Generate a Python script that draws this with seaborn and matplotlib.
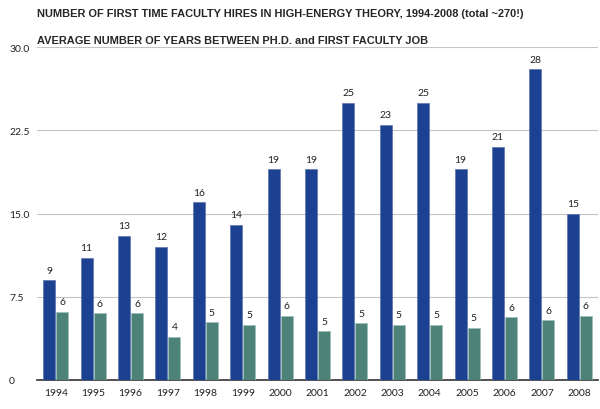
import pandas as pd
import seaborn as sns
import matplotlib.pyplot as plt

years = [str(y) for y in range(1994, 2009)]
hires = [9, 11, 13, 12, 16, 14, 19, 19, 25, 23, 25, 19, 21, 28, 15]
avg_years = [6.15, 6.0, 6.0, 3.9, 5.2, 4.95, 5.8, 4.4, 5.1, 4.95, 4.95, 4.7, 5.65, 5.4, 5.8]
avg_labels = ['6', '6', '6', '4', '5', '5', '6', '5', '5', '5', '5', '5', '6', '6', '6']
y_ticks = [0, 7.5, 15.0, 22.5, 30.0]
y_tick_labels = ['0', '7.5', '15.0', '22.5', '30.0']

BLUE = '#1c4190'
GREEN = '#4c8278'

df = pd.DataFrame({
    'year': years * 2,
    'value': hires + avg_years,
    'series': ['hires'] * len(years) + ['years'] * len(years),
})

sns.set_style('white')
plt.rcParams['font.family'] = ['Lato', 'DejaVu Sans']

fig = plt.figure(figsize=(6, 4.1), dpi=100)
ax = fig.add_axes([37 / 600, 29 / 410, 561 / 600, 333 / 410])

sns.barplot(data=df, x='year', y='value', hue='series', palette=[BLUE, GREEN],
            width=0.7, gap=0.08, legend=False, ax=ax, zorder=3, saturation=1)

for i, bar in enumerate(ax.patches):
    edge = '#5a74ad' if i < 15 else '#9cc0b8'
    bar.set_edgecolor(edge)
    bar.set_linewidth(0.5)

# value labels above each bar
ax.bar_label(ax.containers[0], labels=[str(v) for v in hires], padding=4,
             fontsize=7.5, color='#222222')
ax.bar_label(ax.containers[1], labels=avg_labels, padding=4,
             fontsize=7.5, color='#222222')

ax.set_ylim(0, 30)
ax.set_xlim(-0.5, 14.5)
ax.set_yticks(y_ticks)
ax.set_yticklabels(y_tick_labels)
ax.yaxis.grid(True, color='#c4c4c4', linewidth=0.8, zorder=0)
ax.set_axisbelow(True)
ax.set_xlabel('')
ax.set_ylabel('')
ax.tick_params(axis='both', labelsize=7.5, length=0, colors='#222222')
ax.tick_params(axis='y', pad=20)
for lab in ax.get_yticklabels():
    lab.set_horizontalalignment('left')
ax.tick_params(axis='x', pad=6)

for side in ['left', 'right', 'top']:
    ax.spines[side].set_visible(False)
ax.spines['bottom'].set_color('#333333')
ax.spines['bottom'].set_linewidth(1.2)

fig.text(37 / 600, 1 - 14 / 410, 'NUMBER OF FIRST TIME FACULTY HIRES IN HIGH-ENERGY THEORY, 1994-2008 (total ~270!)',
         fontsize=7.9, fontweight='bold', family='Liberation Sans', va='center')
fig.text(37 / 600, 1 - 41 / 410, 'AVERAGE NUMBER OF YEARS BETWEEN PH.D. and FIRST FACULTY JOB',
         fontsize=7.9, fontweight='bold', family='Liberation Sans', va='center')

fig.savefig('out.png', dpi=100, facecolor='white')
